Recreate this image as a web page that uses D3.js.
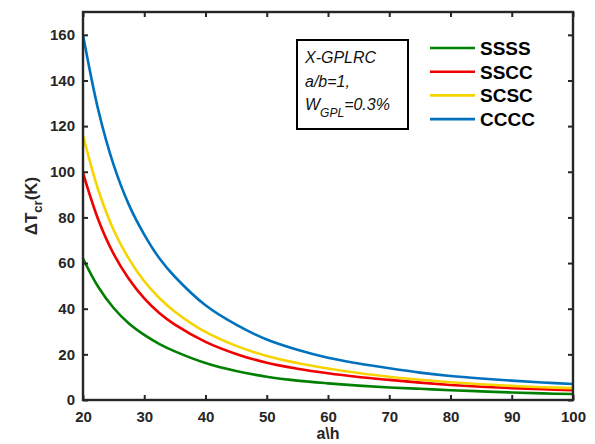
<!DOCTYPE html>
<html><head><meta charset="utf-8">
<script src="https://cdn.jsdelivr.net/npm/d3@7/dist/d3.min.js"></script>
<style>
body{margin:0;background:#fff;}
text{font-family:"Liberation Sans",Arial,sans-serif;}
</style></head><body>
<svg id="c" width="595" height="444"></svg>
<script>
const aOverH = [20,22.5,25,27.5,30,32.5,35,40,45,50,55,60,65,70,75,80,85,90,95,100];
const ssss = [62,49.5,40.3,33.5,28.5,24.5,21.3,16.2,12.7,10.2,8.5,7.3,6.3,5.5,4.9,4.3,3.8,3.3,2.9,2.6];
const sscc = [99.5,79,64,53,44.5,38,33,25.5,20.2,16.3,13.7,11.7,10.1,8.8,7.6,6.6,5.8,5.2,4.7,4.3];
const scsc = [116,92,74.5,61.8,52,44.6,38.7,29.8,23.7,19.3,16.2,13.8,11.8,10.2,8.9,7.8,6.9,6.2,5.6,5.2];
const cccc = [160,127,103,85.5,72.5,62,54,41.5,33,26.5,22,18.5,16,13.9,12,10.5,9.4,8.5,7.7,7.0];
const seriesNames = ["SSSS","SSCC","SCSC","CCCC"];
const xTicks = [20,30,40,50,60,70,80,90,100];
const yTicks = [0,20,40,60,80,100,120,140,160];
const colors = ["#008000","#f00000","#f7d400","#0072bd"];

const svg = d3.select("#c");
const L=83,R=573,T=12,B=400;
const x = d3.scaleLinear().domain([20,100]).range([L,R]);
const y = d3.scaleLinear().domain([0,170]).range([B,T]);
const axisCol="#262626";

const allSeries=[ssss,sscc,scsc,cccc];
const line = d3.line().x((d,i)=>x(aOverH[i])).y(d=>y(d)).curve(d3.curveCatmullRom.alpha(0.5));
svg.append("clipPath").attr("id","clp").append("rect").attr("x",L).attr("y",T).attr("width",R-L).attr("height",B-T);
const g = svg.append("g").attr("clip-path","url(#clp)");
allSeries.forEach((s,k)=>{
  g.append("path").attr("d",line(s)).attr("fill","none").attr("stroke",colors[k]).attr("stroke-width",2.6);
});

// axes
const fmt = d3.format("d");
const xb = svg.append("g").attr("transform",`translate(0,${B})`).call(d3.axisBottom(x).tickValues(xTicks).tickSizeInner(-5).tickSizeOuter(0).tickPadding(11).tickFormat(fmt));
const xt = svg.append("g").attr("transform",`translate(0,${T})`).call(d3.axisTop(x).tickValues(xTicks).tickSizeInner(-5).tickSizeOuter(0).tickFormat(""));
const yl = svg.append("g").attr("transform",`translate(${L},0)`).call(d3.axisLeft(y).tickValues(yTicks).tickSizeInner(-5).tickSizeOuter(0).tickPadding(8).tickFormat(fmt));
const yr = svg.append("g").attr("transform",`translate(${R},0)`).call(d3.axisRight(y).tickValues(yTicks).tickSizeInner(-5).tickSizeOuter(0).tickFormat(""));
[xb,xt,yl,yr].forEach(a=>{
  a.select(".domain").remove();
  a.selectAll(".tick line").attr("stroke",axisCol).attr("stroke-width",2);
  a.selectAll(".tick text").attr("fill",axisCol).style("font-size","15px").style("font-weight","bold").style("font-family","'Liberation Sans',Arial,sans-serif");
});
svg.append("rect").attr("x",L).attr("y",T).attr("width",R-L).attr("height",B-T).attr("fill","none").attr("stroke",axisCol).attr("stroke-width",2.4);

// axis labels
svg.append("text").attr("x",(L+R)/2).attr("y",439).attr("text-anchor","middle").attr("fill",axisCol)
  .style("font-size","16px").style("font-weight","bold").text("a\\h");
const yLab = svg.append("text").attr("transform",`translate(37,${(T+B)/2}) rotate(-90)`).attr("text-anchor","middle").attr("fill",axisCol)
  .style("font-size","17px").style("font-weight","bold");
yLab.append("tspan").text("ΔT");
yLab.append("tspan").attr("dy",5).style("font-size","13px").text("cr");
yLab.append("tspan").attr("dy",-5).text("(K)");

// annotation box
svg.append("rect").attr("x",297).attr("y",40).attr("width",111).attr("height",89).attr("fill","#fff").attr("stroke","#000").attr("stroke-width",2);
const ann = svg.append("g").style("font-size","16px").style("font-style","italic").attr("fill","#111");
ann.append("text").attr("x",305).attr("y",63).text("X-GPLRC");
ann.append("text").attr("x",305).attr("y",87).text("a/b=1,");
const w = ann.append("text").attr("x",305).attr("y",110);
w.append("tspan").text("W");
w.append("tspan").attr("dy",7).style("font-size","12px").text("GPL");
w.append("tspan").attr("dy",-7).text("=0.3%");

// legend
seriesNames.forEach((n,k)=>{
  const yy = 48 + k*23.7;
  svg.append("line").attr("x1",430).attr("x2",475).attr("y1",yy).attr("y2",yy).attr("stroke",colors[k]).attr("stroke-width",2.6);
  svg.append("text").attr("x",480).attr("y",yy+7).attr("fill","#000").style("font-size","19px").style("font-weight","bold").text(n);
});
</script></body></html>
